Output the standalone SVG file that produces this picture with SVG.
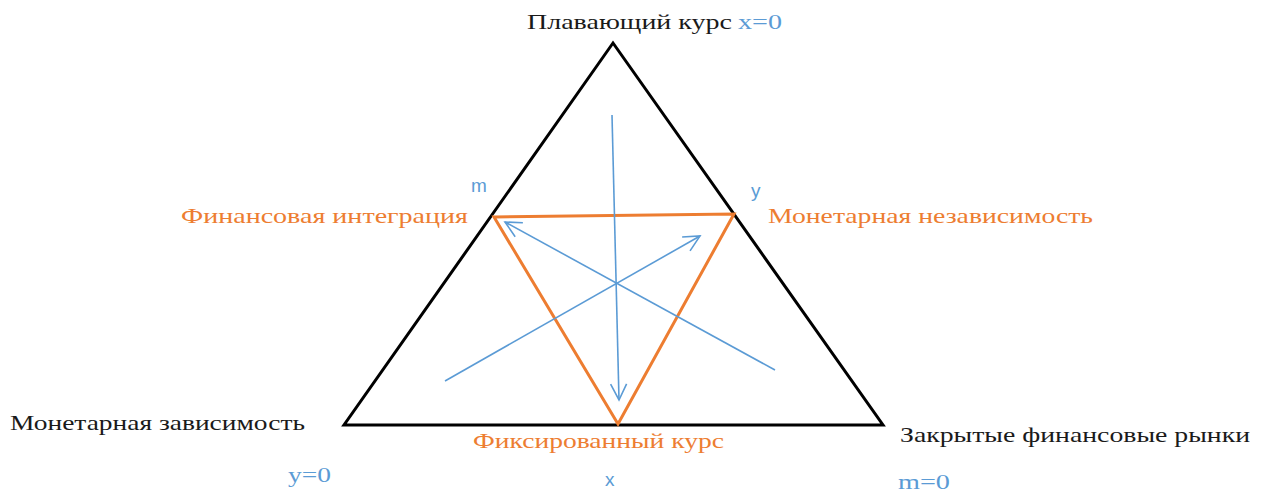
<svg xmlns="http://www.w3.org/2000/svg" width="1266" height="492" viewBox="0 0 1266 492">
<style>
.t{font-family:"Liberation Serif","DejaVu Serif","Times New Roman",serif;font-size:22px}
.k{fill:#1a1a1a}
.o{fill:#ed7d31}
.b{fill:#5b9bd5}
.s{font-family:"Liberation Sans","DejaVu Sans",Arial,sans-serif;font-size:19px;fill:#5b9bd5}
.blue{stroke:#5b9bd5;stroke-width:1.6;fill:none}
</style>
<defs>
<marker id="ah" viewBox="0 0 20 20" refX="18" refY="10" markerWidth="20" markerHeight="20" markerUnits="userSpaceOnUse" orient="auto">
<path d="M2,2 L18,10 L2,18" fill="none" stroke="#5b9bd5" stroke-width="1.6"/>
</marker>
</defs>
<rect width="1266" height="492" fill="#fff"/>
<g id="outer-triangle">
<polygon points="613,43 344,425 883,425" fill="none" stroke="#000" stroke-width="3" stroke-linejoin="miter"/>
</g>
<g id="inner-triangle">
<polygon points="494,217 734,214 618,424" fill="none" stroke="#ed7d31" stroke-width="3"/>
</g>
<g id="connectors">
<line class="blue" x1="612" y1="115" x2="619" y2="400" marker-end="url(#ah)"/>
<line class="blue" x1="445" y1="381" x2="700" y2="236" marker-end="url(#ah)"/>
<line class="blue" x1="775" y1="370" x2="505" y2="222" marker-end="url(#ah)"/>
</g>
<g id="node-top">
<text class="t k" x="527" y="29" textLength="205" lengthAdjust="spacingAndGlyphs">Плавающий курс</text>
<text class="t b" x="738" y="29" textLength="44" lengthAdjust="spacingAndGlyphs">x=0</text>
</g>
<g id="node-left-mid">
<text class="s" x="471" y="192">m</text>
<text class="t o" x="181" y="223" textLength="287" lengthAdjust="spacingAndGlyphs">Финансовая интеграция</text>
</g>
<g id="node-right-mid">
<text class="s" x="751" y="197">y</text>
<text class="t o" x="768" y="223" textLength="325" lengthAdjust="spacingAndGlyphs">Монетарная независимость</text>
</g>
<g id="node-bottom-left">
<text class="t k" x="10" y="430" textLength="295" lengthAdjust="spacingAndGlyphs">Монетарная зависимость</text>
<text class="t b" x="288" y="482" textLength="43" lengthAdjust="spacingAndGlyphs">y=0</text>
</g>
<g id="node-bottom">
<text class="t o" x="473" y="448" textLength="251" lengthAdjust="spacingAndGlyphs">Фиксированный курс</text>
<text class="s" x="605" y="486">x</text>
</g>
<g id="node-bottom-right">
<text class="t k" x="900" y="442" textLength="350" lengthAdjust="spacingAndGlyphs">Закрытые финансовые рынки</text>
<text class="t b" x="898" y="489" textLength="52" lengthAdjust="spacingAndGlyphs">m=0</text>
</g>
</svg>
